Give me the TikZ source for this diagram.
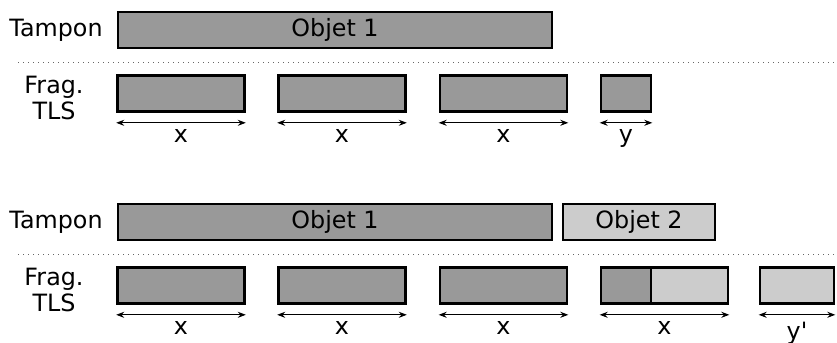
\documentclass[tikz,border=0pt]{standalone}
\usepackage{fontspec}
\setmainfont{DejaVu Sans}
\usetikzlibrary{arrows.meta}
\definecolor{fonce}{gray}{0.6}
\definecolor{clair}{gray}{0.8}
\tikzset{
    boite/.style={draw, line width=1.3pt, inner sep=0pt, minimum height=18pt},
    cote/.style={<->, >={Stealth[length=4pt, width=3pt]}, line width=0.5pt},
    separ/.style={dotted, line width=0.5pt, gray!80!black}
}
\begin{document}
\begin{tikzpicture}[x=0.5pt, y=-0.5pt, font=\fontsize{11.9}{13.2}\selectfont]
    \useasboundingbox (0,0) rectangle (837,343);

    % ==================== HAUT : UN SEUL OBJET ====================
    \node (tamponA) at (56,30) {Tampon};
    \node[boite, fill=fonce, minimum width=217pt] (objA) at (335,30) {Objet 1};
    \draw[separ] (18,62) -- (837,62);
    \node[align=center] (fragA) at (54,98) {Frag.\\TLS};

    % fragments de taille x
    \node[boite, fill=fonce, minimum width=63.5pt] (a1) at (181,93.5) {};
    \node[boite, fill=fonce, minimum width=63.5pt] (a2) at (342,93.5) {};
    \node[boite, fill=fonce, minimum width=63.5pt] (a3) at (503.5,93.5) {};
    % dernier fragment de taille y
    \node[boite, fill=fonce, minimum width=25pt] (a4) at (626,93.5) {};

    \foreach \f/\t in {a1/x, a2/x, a3/x, a4/y}
        \draw[cote] ([yshift=-5pt]\f.south west) -- ([yshift=-5pt]\f.south east)
            node[midway, below=0pt] {\t};

    % ==================== BAS : DEUX OBJETS ====================
    \node (tamponB) at (56,222) {Tampon};
    \node[boite, fill=fonce, minimum width=217pt] (objB) at (335,222) {Objet 1};
    \node[boite, fill=clair, minimum width=76pt] (objC) at (639,222) {Objet 2};
    \draw[separ] (18,254) -- (837,254);
    \node[align=center] (fragB) at (54,290) {Frag.\\TLS};

    \node[boite, fill=fonce, minimum width=63.5pt] (b1) at (181,285.5) {};
    \node[boite, fill=fonce, minimum width=63.5pt] (b2) at (342,285.5) {};
    \node[boite, fill=fonce, minimum width=63.5pt] (b3) at (503.5,285.5) {};
    % fragment mixte : fin de l'objet 1 + debut de l'objet 2
    \node[boite, fill=fonce, minimum width=25pt] (b4g) at (626,285.5) {};
    \node[boite, fill=clair, minimum width=38.5pt] (b4d) at (689.5,285.5) {};
    % fragment final de taille y'
    \node[boite, fill=clair, minimum width=37pt] (b5) at (797,285.5) {};

    \foreach \f/\t in {b1/x, b2/x, b3/x, b5/y\textquotesingle}
        \draw[cote] ([yshift=-5pt]\f.south west) -- ([yshift=-5pt]\f.south east)
            node[midway, below=0pt] {\t};
    \draw[cote] ([yshift=-5pt]b4g.south west) -- ([yshift=-5pt]b4d.south east)
        node[midway, below=0pt] {x};
\end{tikzpicture}
\end{document}
